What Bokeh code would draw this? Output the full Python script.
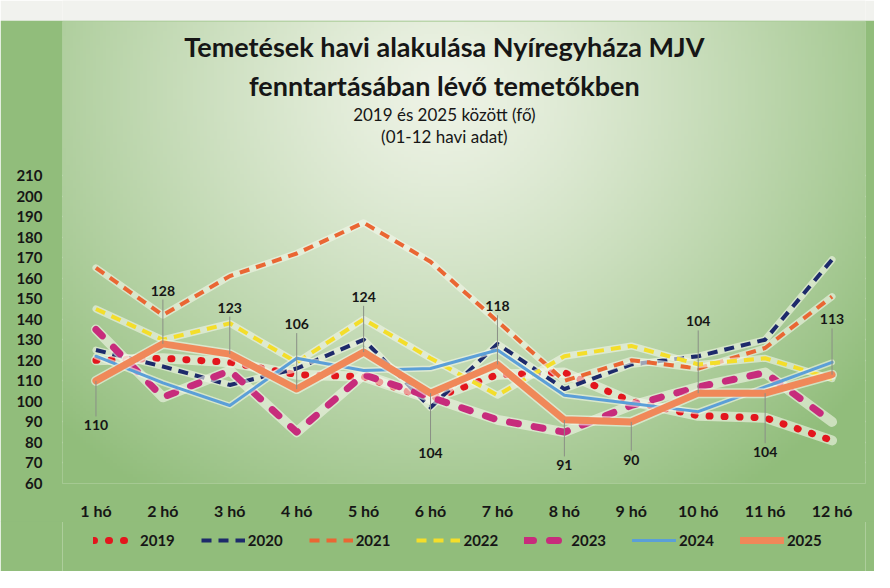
import numpy as np
from bokeh.plotting import figure
from bokeh.layouts import column
from bokeh.models import Range1d, FixedTicker, Legend, LegendItem, ColumnDataSource
from bokeh.core.properties import value
from bokeh.embed import file_html
from bokeh.resources import INLINE

# ---------------- data ----------------
months = ["1 hó", "2 hó", "3 hó", "4 hó", "5 hó", "6 hó",
          "7 hó", "8 hó", "9 hó", "10 hó", "11 hó", "12 hó"]
month_no = list(range(1, 13))
years = ["2019", "2020", "2021", "2022", "2023", "2024", "2025"]
y2019 = [120, 121, 119, 113, 112, 101, 113, 114, 100, 93, 92, 81]
y2020 = [125, 117, 108, 116, 130, 97, 128, 106, 118, 122, 130, 169]
y2021 = [165, 142, 161, 172, 187, 168, 139, 110, 120, 116, 126, 151]
y2022 = [145, 130, 138, 119, 140, 121, 103, 122, 127, 118, 121, 111]
y2023 = [135, 102, 115, 85, 113, 102, 91, 85, 98, 107, 114, 90]
y2024 = [122, 109, 98, 121, 115, 116, 125, 103, 99, 95, 107, 119]
y2025 = [110, 128, 123, 106, 124, 104, 118, 91, 90, 104, 104, 113]
y_ticks = list(range(60, 211, 10))

series = [y2019, y2020, y2021, y2022, y2023, y2024, y2025]

# label placement for the 2025 data labels (px, + = below the point)
label_offsets_px = [46, -55, -48, -67, -57, 62, -60, 47, 39, -74, 61, -57]

# ---------------- layout ----------------
FONT = "Lato"
W = 874
SX, SY = 874 / 890, 572 / 588
STRIP = 21
H = 502
LEG_H = 50
LEFT, RIGHT, TOP, BOTTOM = 62, 9, 1, 37
X0, X1 = 0.5, 12.5
frame_w = W - LEFT - RIGHT
frame_h = H - TOP - BOTTOM
Y0 = 60
ppu = 2.12 * SY
Y1 = Y0 + frame_h / ppu
ppx = frame_w / (X1 - X0)
OFF = STRIP - 1 + TOP   # page-y of the main frame's top edge


def y_at(ref_y):
    return Y0 + (OFF + frame_h - ref_y * SY) / ppu


def x_at(ref_x):
    return X0 + (ref_x * SX - LEFT) / ppx


BORDER = "#91bd7b"
PAPER = "#f1f2ee"
INK = "#161616"

# ---------------- white strip above the panel ----------------
pt = figure(width=W, height=STRIP, output_backend="svg", toolbar_location=None,
            x_range=Range1d(0, 1), y_range=Range1d(0, 1),
            x_axis_location=None, y_axis_location=None,
            min_border_left=0, min_border_right=0, min_border_top=0, min_border_bottom=0)
pt.grid.grid_line_color = None
pt.outline_line_color = None
pt.background_fill_color = PAPER
pt.border_fill_color = PAPER

# ---------------- main chart ----------------
p = figure(width=W, height=H, output_backend="svg", toolbar_location=None,
           x_range=Range1d(X0, X1), y_range=Range1d(Y0, Y1),
           min_border_left=LEFT, min_border_right=RIGHT,
           min_border_top=TOP, min_border_bottom=BOTTOM,
           margin=(-1, 0, 0, 0))
p.border_fill_color = BORDER
p.background_fill_color = BORDER
p.outline_line_color = None

# background gradient (style only)
HI, WI = 160, 240
img = np.zeros((HI, WI), dtype=np.uint32)
view = img.view(dtype=np.uint8).reshape((HI, WI, 4))
rows = (np.arange(HI) + 0.5) / HI
cols = (np.arange(WI) + 0.5) / WI
RX = (LEFT + cols[None, :] * frame_w) / SX
RY = (OFF + frame_h * (1 - rows[:, None])) / SY
d = np.sqrt(((RX - 450) / 540.0) ** 2 + ((RY - 95) / 500.0) ** 2)
t = np.clip(d, 0, 1) ** 1.25
light = np.array([238, 243, 230])
dark = np.array([145, 189, 123])
col = light[None, None, :] * (1 - t[..., None]) + dark[None, None, :] * t[..., None]
view[..., 0] = col[..., 0].astype(np.uint8)
view[..., 1] = col[..., 1].astype(np.uint8)
view[..., 2] = col[..., 2].astype(np.uint8)
view[..., 3] = 255
p.image_rgba(image=[img], x=X0, y=Y0, dw=X1 - X0, dh=Y1 - Y0)

# axes & grid
p.xgrid.grid_line_color = None
p.ygrid.ticker = FixedTicker(ticks=y_ticks)
p.ygrid.grid_line_color = "white"
p.ygrid.grid_line_width = 1.4
p.ygrid.grid_line_alpha = 0.9

p.yaxis.ticker = FixedTicker(ticks=y_ticks)
p.xaxis.ticker = FixedTicker(ticks=month_no)
p.xaxis.major_label_overrides = {m: lab for m, lab in zip(month_no, months)}
for ax in (p.xaxis, p.yaxis):
    ax.axis_line_color = None
    ax.major_tick_line_color = None
    ax.minor_tick_line_color = None
    ax.major_label_text_font = FONT
    ax.major_label_text_font_style = "bold"
    ax.major_label_text_color = INK
p.yaxis.major_label_text_font_size = "15px"
p.yaxis.major_label_standoff = 14
p.xaxis.major_label_text_font_size = "16px"
p.xaxis.major_label_standoff = 11

# titles
tx = x_at(452)
p.text(x=[tx], y=[y_at(47)], text=["Temetések havi alakulása Nyíregyháza MJV"],
       text_font=value(FONT), text_font_style="bold", text_font_size="27px",
       text_align="center", text_baseline="middle", text_color=INK)
p.text(x=[tx], y=[y_at(88)], text=["fenntartásában lévő temetőkben"],
       text_font=value(FONT), text_font_style="bold", text_font_size="27px",
       text_align="center", text_baseline="middle", text_color=INK)
p.text(x=[tx], y=[y_at(118)], text=["2019 és 2025 között (fő)"],
       text_font=value(FONT), text_font_size="17px",
       text_align="center", text_baseline="middle", text_color=INK)
p.text(x=[tx], y=[y_at(140)], text=["(01-12 havi adat)"],
       text_font=value(FONT), text_font_size="17px",
       text_align="center", text_baseline="middle", text_color=INK)

# series
styles = [
    dict(color="#e3161d", width=7, dash="1 14", cap="round"),
    dict(color="#1d2a6b", width=4, dash="10 7", cap="butt"),
    dict(color="#ea6633", width=4, dash="10 7", cap="butt"),
    dict(color="#f4de2a", width=4, dash="10 7", cap="butt"),
    dict(color="#c72c7c", width=7, dash="9 16", cap="round"),
    dict(color="#5b9fd8", width=3, dash="solid", cap="round"),
    dict(color="#f08859", width=7, dash="solid", cap="round"),
]

for yr, vals, st in zip(years, series, styles):
    src = ColumnDataSource(dict(x=month_no, y=vals))
    p.line("x", "y", source=src, line_color="#f3f7ea", line_alpha=0.6,
           line_width=st["width"] + 3, line_join="round", line_cap="round")
    p.line("x", "y", source=src, line_color=st["color"], line_width=st["width"],
           line_dash=st["dash"], line_cap=st["cap"], line_join="round")

# 2025 data labels
lab_y = [v - off * SY / ppu for v, off in zip(y2025, label_offsets_px)]
seg_end = [ly + (9 / ppu if off > 0 else -9 / ppu) for ly, off in zip(lab_y, label_offsets_px)]
p.segment(x0=month_no, y0=y2025, x1=month_no, y1=seg_end,
          line_color="#8a8f86", line_width=1)
p.text(x=month_no, y=lab_y, text=[str(v) for v in y2025],
       text_font=value(FONT), text_font_style="bold", text_font_size="14px",
       text_align="center", text_baseline="middle", text_color=INK)

# ---------------- legend (separate strip below) ----------------
pl = figure(width=W, height=LEG_H, output_backend="svg", toolbar_location=None,
            x_range=Range1d(0, 1), y_range=Range1d(0, 1),
            x_axis_location=None, y_axis_location=None,
            min_border_left=0, min_border_right=0, min_border_top=0, min_border_bottom=0,
            margin=(-1, 0, 0, 0))
pl.grid.grid_line_color = None
pl.outline_line_color = None
pl.background_fill_color = BORDER
pl.border_fill_color = BORDER
items = []
for yr, st in zip(years, styles):
    r = pl.line(x=[5, 6], y=[5, 5], line_color=st["color"], line_width=st["width"],
                line_dash=st["dash"], line_cap=st["cap"])
    items.append(LegendItem(label=yr, renderers=[r]))
legend = Legend(items=items, orientation="horizontal", location=(31, 22),
                background_fill_alpha=0, border_line_color=None,
                label_text_font=FONT, label_text_font_style="bold",
                label_text_font_size="15px", label_text_color=INK,
                glyph_width=44, glyph_height=16, label_standoff=3,
                spacing=26, padding=0, margin=0)
pl.add_layout(legend, "center")

layout = column(pt, p, pl, spacing=0)
open("out.html", "w").write(file_html(layout, INLINE))
